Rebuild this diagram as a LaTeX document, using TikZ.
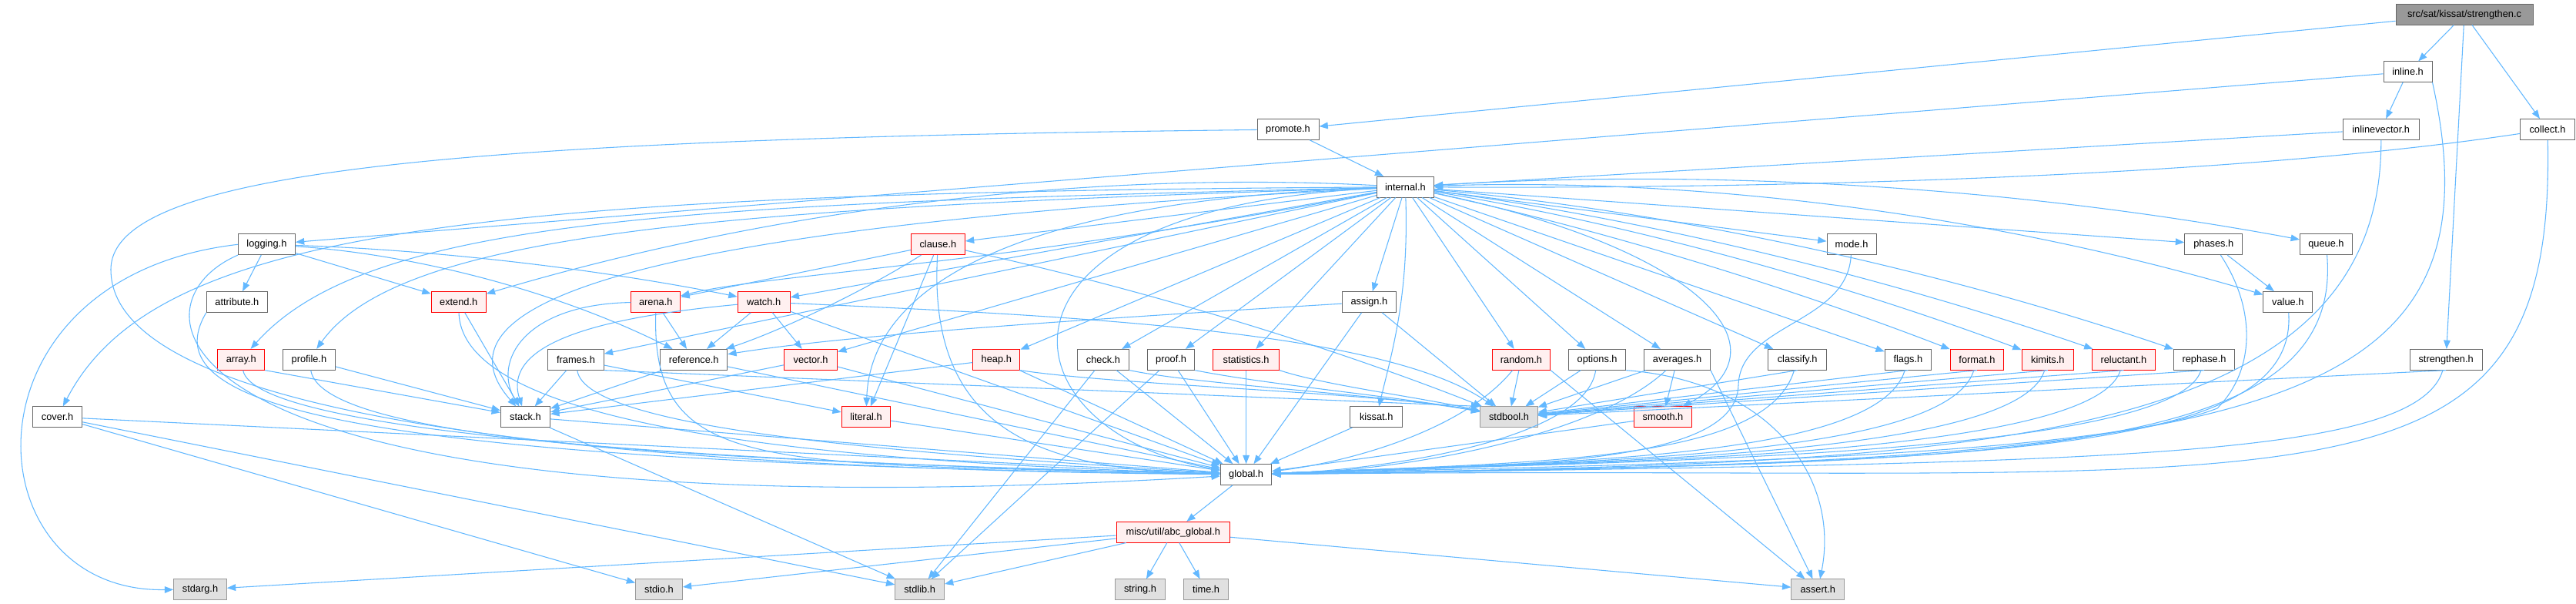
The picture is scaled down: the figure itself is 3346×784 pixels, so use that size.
\documentclass[tikz,border=0pt]{standalone}
\usepackage{fontspec}
\setmainfont{Liberation Sans}
\usetikzlibrary{arrows.meta}
\definecolor{edgeblue}{HTML}{63B8FF}
\definecolor{boxgray}{HTML}{666666}
\definecolor{sysgray}{HTML}{999999}
\definecolor{sysfill}{HTML}{E0E0E0}
\definecolor{redfill}{HTML}{FFF0F0}

\begin{document}
\begin{tikzpicture}[
    x=0.75pt, y=-0.75pt,
    box/.style={draw=boxgray, fill=white, line width=0.75pt, minimum width=#1, minimum height=20pt, inner sep=0pt, font=\fontsize{9.6}{11}\selectfont},
    redbox/.style={box=#1, draw=red, fill=redfill},
    sysbox/.style={box=#1, draw=sysgray, fill=sysfill},
    rootbox/.style={box=#1, fill=sysgray},
    inc/.style={->, draw=edgeblue, line width=0.8pt},
    >={Triangle[length=8.5pt,width=6.5pt]}
]
\useasboundingbox (0,0) rectangle (3346,784);

\node[rootbox=133.5pt] (strengthenc) at (3201,18.7) {src/sat/kissat/strengthen.c};
\node[box=47.3pt] (inlineh) at (3127.5,93.3) {inline.h};
\node[box=60pt] (promoteh) at (1673,168) {promote.h};
\node[box=74.3pt] (inlinevectorh) at (3092.7,168) {inlinevector.h};
\node[box=53.3pt] (collecth) at (3309,168) {collect.h};
\node[box=55.5pt] (internalh) at (1825.4,242.7) {internal.h};
\node[box=55.5pt] (loggingh) at (346.4,317.3) {logging.h};
\node[redbox=52.5pt] (clauseh) at (1218.4,317.3) {clause.h};
\node[box=48pt] (modeh) at (2405,317.3) {mode.h};
\node[box=56.3pt] (phasesh) at (2875.2,317.3) {phases.h};
\node[box=51pt] (queueh) at (3021.4,317.3) {queue.h};
\node[box=59.3pt] (attributeh) at (307.9,392) {attribute.h};
\node[redbox=53.3pt] (extendh) at (595.7,392) {extend.h};
\node[redbox=48pt] (arenah) at (851.8,392) {arena.h};
\node[redbox=51pt] (watchh) at (992.1,392) {watch.h};
\node[box=52.5pt] (assignh) at (1778.4,392) {assign.h};
\node[box=48pt] (valueh) at (2971.8,392) {value.h};
\node[redbox=45.8pt] (arrayh) at (313.2,466.8) {array.h};
\node[box=51pt] (profileh) at (401.4,466.8) {profile.h};
\node[box=54.4pt] (framesh) at (748,466.8) {frames.h};
\node[box=65.3pt] (referenceh) at (901.2,466.8) {reference.h};
\node[redbox=51.8pt] (vectorh) at (1053,466.8) {vector.h};
\node[redbox=45.8pt] (heaph) at (1294.3,466.8) {heap.h};
\node[box=50.6pt] (checkh) at (1433,466.8) {check.h};
\node[box=46pt] (proofh) at (1521.1,466.8) {proof.h};
\node[redbox=64.3pt] (statisticsh) at (1618.6,466.8) {statistics.h};
\node[redbox=56.6pt] (randomh) at (1975.9,466.8) {random.h};
\node[box=55.7pt] (optionsh) at (2074.6,466.8) {options.h};
\node[box=64.3pt] (averagesh) at (2178.6,466.8) {averages.h};
\node[box=57.3pt] (classifyh) at (2334.6,466.8) {classify.h};
\node[box=45.3pt] (flagsh) at (2478.4,466.8) {flags.h};
\node[redbox=52pt] (formath) at (2567.9,466.8) {format.h};
\node[redbox=50.6pt] (kimitsh) at (2659.8,466.8) {kimits.h};
\node[redbox=61.4pt] (reluctanth) at (2758.4,466.8) {reluctant.h};
\node[box=59.2pt] (rephaseh) at (2863,466.8) {rephase.h};
\node[box=70.7pt] (strengthenh) at (3177.1,466.8) {strengthen.h};
\node[box=48.2pt] (coverh) at (74.6,541.3) {cover.h};
\node[box=48.2pt] (stackh) at (682.5,541.3) {stack.h};
\node[redbox=47.7pt] (literalh) at (1125,541.3) {literal.h};
\node[box=50.6pt] (kissath) at (1787.7,541.3) {kissat.h};
\node[sysbox=55.7pt] (stdboolh) at (1960,541.3) {stdbool.h};
\node[redbox=56.3pt] (smoothh) at (2160,541.3) {smooth.h};
\node[box=49.8pt] (globalh) at (1618.6,616) {global.h};
\node[redbox=110.6pt] (abcglobalh) at (1523.8,690.7) {misc/util/abc\_global.h};
\node[sysbox=51.5pt] (stdargh) at (260,765.3) {stdarg.h};
\node[sysbox=45.5pt] (stdioh) at (856,765.3) {stdio.h};
\node[sysbox=47.7pt] (stdlibh) at (1194.6,765.3) {stdlib.h};
\node[sysbox=48.2pt] (stringh) at (1481,765.3) {string.h};
\node[sysbox=43.1pt] (timeh) at (1566.6,765.3) {time.h};
\node[sysbox=51.7pt] (asserth) at (2361.3,765.3) {assert.h};

\draw[inc] (strengthenc) -- (promoteh);
\draw[inc] (strengthenc) -- (inlineh);
\draw[inc] (strengthenc) -- (strengthenh);
\draw[inc] (strengthenc) -- (collecth);
\draw[inc] (inlineh) -- (loggingh);
\draw[inc] (inlineh) -- (inlinevectorh);
\draw[inc] (inlineh.south east) .. controls (3260,560) and (2900,600) .. (globalh);
\draw[inc] (inlinevectorh) -- (internalh);
\draw[inc] (inlinevectorh) .. controls (3095,600) and (2500,600) .. (globalh);
\draw[inc] (collecth) .. controls (2900,230) and (2300,245) .. (internalh);
\draw[inc] (collecth) .. controls (3320,700) and (3000,600) .. (globalh);
\draw[inc] (promoteh) -- (internalh);
\draw[inc] (promoteh) .. controls (600,180) and (144,220) .. (144,350) .. controls (144,560) and (900,610) .. (globalh);

\draw[inc] (internalh) .. controls (600,250) and (200,300) .. (coverh);
\draw[inc] (internalh) .. controls (900,265) and (480,280) .. (arrayh);
\draw[inc] (internalh) .. controls (950,270) and (520,300) .. (profileh);
\draw[inc] (internalh) .. controls (1415,221) and (1006,270) .. (extendh);
\draw[inc] (internalh) .. controls (900,290) and (540,380) .. (stackh);
\draw[inc] (internalh) .. controls (1300,345) and (1000,355) .. (arenah);
\draw[inc] (internalh) -- (watchh);
\draw[inc] (internalh) -- (framesh);
\draw[inc] (internalh) -- (vectorh);
\draw[inc] (internalh) -- (clauseh);
\draw[inc] (internalh) .. controls (1300,260) and (1130,380) .. (literalh);
\draw[inc] (internalh) -- (heaph);
\draw[inc] (internalh) -- (checkh);
\draw[inc] (internalh) -- (proofh);
\draw[inc] (internalh) -- (statisticsh);
\draw[inc] (internalh) .. controls (1250,270) and (1300,560) .. (globalh);
\draw[inc] (internalh) -- (assignh);
\draw[inc] (internalh) .. controls (1830,380) and (1810,450) .. (kissath);
\draw[inc] (internalh) -- (randomh);
\draw[inc] (internalh) -- (optionsh);
\draw[inc] (internalh) -- (averagesh);
\draw[inc] (internalh) .. controls (2200,320) and (2330,450) .. (smoothh);
\draw[inc] (internalh) -- (classifyh);
\draw[inc] (internalh) -- (flagsh);
\draw[inc] (internalh) .. controls (2073,296) and (2320,371) .. (formath);
\draw[inc] (internalh) .. controls (2103,288) and (2382,363) .. (kimitsh);
\draw[inc] (internalh) .. controls (2136,284) and (2447,359) .. (reluctanth);
\draw[inc] (internalh) .. controls (2171,274) and (2517,349) .. (rephaseh);
\draw[inc] (internalh) -- (modeh);
\draw[inc] (internalh) -- (phasesh);
\draw[inc] (internalh) .. controls (2224,218) and (2622,243) .. (queueh);
\draw[inc] (internalh) .. controls (2208,229) and (2590,279) .. (valueh);

\draw[inc] (loggingh) -- (attributeh);
\draw[inc] (loggingh) -- (extendh);
\draw[inc] (loggingh) .. controls (562,324) and (777,349) .. (watchh);
\draw[inc] (loggingh) .. controls (541,330) and (726,379) .. (referenceh);
\draw[inc] (loggingh.west) .. controls (-60,360) and (-40,770) .. (stdargh.west);
\draw[inc] (loggingh.south west) .. controls (150,400) and (200,700) .. (globalh);
\draw[inc] (attributeh.south west) .. controls (200,520) and (400,600) .. (globalh);

\draw[inc] (clauseh) -- (arenah);
\draw[inc] (clauseh) .. controls (1119,380) and (1012,430) .. (referenceh);
\draw[inc] (clauseh) -- (literalh);
\draw[inc] (clauseh) .. controls (1471,372) and (1719,446) .. (stdboolh);
\draw[inc] (clauseh) .. controls (1205,560) and (1350,610) .. (globalh);
\draw[inc] (arenah) -- (referenceh);
\draw[inc] (arenah) .. controls (680,395) and (640,470) .. (stackh);
\draw[inc] (arenah.south) .. controls (845,620) and (1000,600) .. (globalh);
\draw[inc] (watchh) -- (referenceh);
\draw[inc] (watchh) -- (vectorh);
\draw[inc] (watchh) .. controls (800,410) and (650,440) .. (stackh);
\draw[inc] (watchh) .. controls (1400,410) and (1800,430) .. (stdboolh);
\draw[inc] (watchh) -- (globalh);
\draw[inc] (extendh) -- (stackh);
\draw[inc] (extendh) .. controls (600,560) and (1100,600) .. (globalh);

\draw[inc] (arrayh.south east) -- (stackh);
\draw[inc] (arrayh) .. controls (330,560) and (900,600) .. (globalh);
\draw[inc] (profileh) -- (stackh);
\draw[inc] (profileh) .. controls (420,580) and (1000,600) .. (globalh);
\draw[inc] (framesh) -- (stackh);
\draw[inc] (framesh) -- (literalh);
\draw[inc] (framesh.south east) -- (stdboolh.north west);
\draw[inc] (framesh) .. controls (760,560) and (1200,590) .. (globalh);
\draw[inc] (referenceh) -- (stackh);
\draw[inc] (referenceh) -- (globalh);
\draw[inc] (vectorh) -- (stackh);
\draw[inc] (vectorh) -- (globalh);
\draw[inc] (heaph) -- (stackh);
\draw[inc] (heaph.south east) .. controls (1450,500) and (1800,510) .. (stdboolh);
\draw[inc] (heaph) -- (globalh);
\draw[inc] (checkh.south east) .. controls (1560,500) and (1800,512) .. (stdboolh);
\draw[inc] (checkh) -- (stdlibh);
\draw[inc] (checkh) -- (globalh);
\draw[inc] (proofh.south east) .. controls (1650,500) and (1820,515) .. (stdboolh);
\draw[inc] (proofh) -- (stdlibh);
\draw[inc] (proofh) -- (globalh);
\draw[inc] (statisticsh.south east) .. controls (1720,500) and (1840,515) .. (stdboolh);
\draw[inc] (statisticsh) -- (globalh);

\draw[inc] (assignh) .. controls (1400,415) and (1100,435) .. (referenceh);
\draw[inc] (assignh) -- (stdboolh);
\draw[inc] (assignh) -- (globalh);
\draw[inc] (randomh) -- (stdboolh);
\draw[inc] (randomh.south east) -- (asserth);
\draw[inc] (randomh) .. controls (1900,560) and (1750,600) .. (globalh);
\draw[inc] (optionsh) -- (stdboolh);
\draw[inc] (optionsh.south east) .. controls (2300,495) and (2390,620) .. (asserth);
\draw[inc] (optionsh) .. controls (2060,570) and (1800,610) .. (globalh);
\draw[inc] (averagesh) -- (smoothh);
\draw[inc] (averagesh) -- (stdboolh);
\draw[inc] (averagesh.south east) -- (asserth);
\draw[inc] (averagesh) .. controls (2080,560) and (1850,610) .. (globalh);
\draw[inc] (smoothh) -- (globalh);
\draw[inc] (kissath) -- (globalh);
\draw[inc] (modeh) .. controls (2400,420) and (2260,420) .. (2258,500) .. controls (2255,600) and (2000,605) .. (globalh);

\draw[inc] (classifyh.south) -- (stdboolh);
\draw[inc] (classifyh) .. controls (2295,600) and (2000,600) .. (globalh);
\draw[inc] (flagsh.south) -- (stdboolh);
\draw[inc] (flagsh) .. controls (2438,600) and (2000,600) .. (globalh);
\draw[inc] (formath.south) -- (stdboolh);
\draw[inc] (formath) .. controls (2528,600) and (2000,600) .. (globalh);
\draw[inc] (kimitsh.south) -- (stdboolh);
\draw[inc] (kimitsh) .. controls (2620,600) and (2000,600) .. (globalh);
\draw[inc] (reluctanth.south) -- (stdboolh);
\draw[inc] (reluctanth) .. controls (2718,600) and (2000,600) .. (globalh);
\draw[inc] (rephaseh.south) -- (stdboolh);
\draw[inc] (rephaseh) .. controls (2823,600) and (2000,600) .. (globalh);
\draw[inc] (strengthenh.south) -- (stdboolh);
\draw[inc] (strengthenh) .. controls (3137,600) and (2700,600) .. (globalh);
\draw[inc] (phasesh) -- (valueh);
\draw[inc] (phasesh) .. controls (2930,400) and (2930,480) .. (2880,530) .. controls (2700,600) and (2000,605) .. (globalh);
\draw[inc] (queueh) .. controls (3045,600) and (2600,600) .. (globalh);
\draw[inc] (valueh) .. controls (2985,590) and (2600,600) .. (globalh);

\draw[inc] (coverh) -- (globalh);
\draw[inc] (coverh) -- (stdioh);
\draw[inc] (coverh) -- (stdlibh);
\draw[inc] (stackh) -- (globalh);
\draw[inc] (stackh) -- (stdlibh);
\draw[inc] (literalh) -- (globalh);
\draw[inc] (globalh) -- (abcglobalh);
\draw[inc] (abcglobalh) -- (stdargh);
\draw[inc] (abcglobalh) -- (stdioh);
\draw[inc] (abcglobalh) -- (stdlibh);
\draw[inc] (abcglobalh) -- (stringh);
\draw[inc] (abcglobalh) -- (timeh);
\draw[inc] (abcglobalh) -- (asserth);
\end{tikzpicture}
\end{document}
